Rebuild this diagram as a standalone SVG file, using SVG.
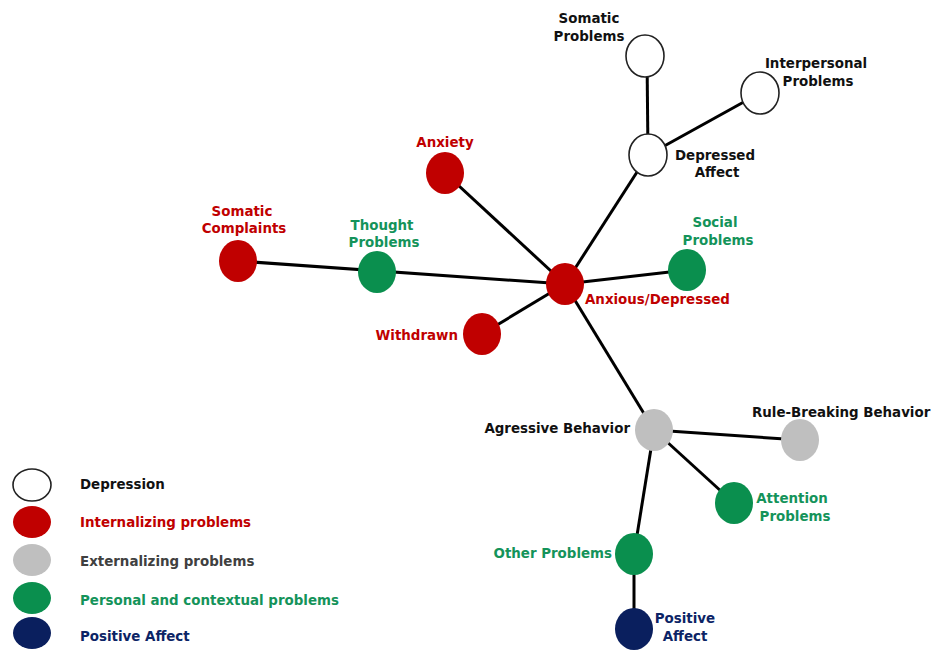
<svg xmlns="http://www.w3.org/2000/svg" width="937" height="653" viewBox="0 0 937 653">
<style>
text{font-family:"DejaVu Sans","Verdana",sans-serif;font-weight:bold;font-size:13.4px}
.k{fill:#111}
.r{fill:#C00000}
.g{fill:#14935A}
.n{fill:#0C2466}
.dg{fill:#404040}
.m{text-anchor:middle}
.e{text-anchor:end}
.wn{fill:#fff;stroke:#222;stroke-width:1.6}
.rn{fill:#C00000}
.gn{fill:#0A8F4E}
.an{fill:#BFBFBF}
.nn{fill:#0A1F5E}
#edges line{stroke:#000;stroke-width:3}
</style>
<rect width="937" height="653" fill="#fff"/>
<g id="edges">
<line x1="647" y1="56" x2="648" y2="155"/>
<line x1="648" y1="155" x2="760" y2="93"/>
<line x1="648" y1="155" x2="565" y2="284"/>
<line x1="445" y1="173" x2="565" y2="284"/>
<line x1="238" y1="261" x2="565" y2="284"/>
<line x1="482" y1="334" x2="565" y2="284"/>
<line x1="687" y1="270" x2="565" y2="284"/>
<line x1="565" y1="284" x2="654" y2="430"/>
<line x1="654" y1="430" x2="800" y2="440"/>
<line x1="654" y1="430" x2="734" y2="503"/>
<line x1="654" y1="430" x2="634" y2="554"/>
<line x1="634" y1="554" x2="634" y2="629"/>
</g>
<g id="somatic-problems"><ellipse class="wn" cx="645" cy="56" rx="19" ry="21"/><text class="k m" x="589" y="23">Somatic</text><text class="k m" x="589" y="41">Problems</text></g>
<g id="interpersonal-problems"><ellipse class="wn" cx="760" cy="93" rx="19" ry="21"/><text class="k m" x="816" y="68">Interpersonal</text><text class="k m" x="818" y="86">Problems</text></g>
<g id="depressed-affect"><ellipse class="wn" cx="648" cy="155" rx="19" ry="21"/><text class="k m" x="715" y="160">Depressed</text><text class="k m" x="717" y="177">Affect</text></g>
<g id="anxiety"><ellipse class="rn" cx="445" cy="173" rx="19" ry="21"/><text class="r m" x="445" y="147">Anxiety</text></g>
<g id="somatic-complaints"><ellipse class="rn" cx="238" cy="261" rx="19" ry="21"/><text class="r m" x="242" y="216">Somatic</text><text class="r m" x="244" y="233">Complaints</text></g>
<g id="thought-problems"><ellipse class="gn" cx="377" cy="272" rx="19" ry="21"/><text class="g m" x="382" y="230">Thought</text><text class="g m" x="384" y="247">Problems</text></g>
<g id="anxious-depressed"><ellipse class="rn" cx="565" cy="284" rx="19" ry="21"/><text class="r" x="585" y="304">Anxious/Depressed</text></g>
<g id="withdrawn"><ellipse class="rn" cx="482" cy="334" rx="19" ry="21"/><text class="r e" x="458" y="340">Withdrawn</text></g>
<g id="social-problems"><ellipse class="gn" cx="687" cy="270" rx="19" ry="21"/><text class="g m" x="715" y="227">Social</text><text class="g m" x="718" y="245">Problems</text></g>
<g id="agressive-behavior"><ellipse class="an" cx="654" cy="430" rx="19" ry="21"/><text class="k e" x="630" y="433">Agressive Behavior</text></g>
<g id="rule-breaking-behavior"><ellipse class="an" cx="800" cy="440" rx="19" ry="21"/><text class="k" x="752" y="417">Rule-Breaking Behavior</text></g>
<g id="attention-problems"><ellipse class="gn" cx="734" cy="503" rx="19" ry="21"/><text class="g m" x="792" y="503">Attention</text><text class="g m" x="795" y="521">Problems</text></g>
<g id="other-problems"><ellipse class="gn" cx="634" cy="554" rx="19" ry="21"/><text class="g e" x="612" y="558">Other Problems</text></g>
<g id="positive-affect"><ellipse class="nn" cx="634" cy="629" rx="19" ry="21"/><text class="n m" x="685" y="623">Positive</text><text class="n m" x="685" y="641">Affect</text></g>
<g id="legend">
<ellipse class="wn" cx="32" cy="485" rx="19" ry="16"/><text class="k" x="80" y="489">Depression</text>
<ellipse class="rn" cx="32" cy="522" rx="19" ry="16"/><text class="r" x="80" y="527">Internalizing problems</text>
<ellipse class="an" cx="32" cy="560" rx="19" ry="16"/><text class="dg" x="80" y="566">Externalizing problems</text>
<ellipse class="gn" cx="32" cy="598" rx="19" ry="16"/><text class="g" x="80" y="605">Personal and contextual problems</text>
<ellipse class="nn" cx="32" cy="633" rx="19" ry="16"/><text class="n" x="80" y="641">Positive Affect</text>
</g>
</svg>
